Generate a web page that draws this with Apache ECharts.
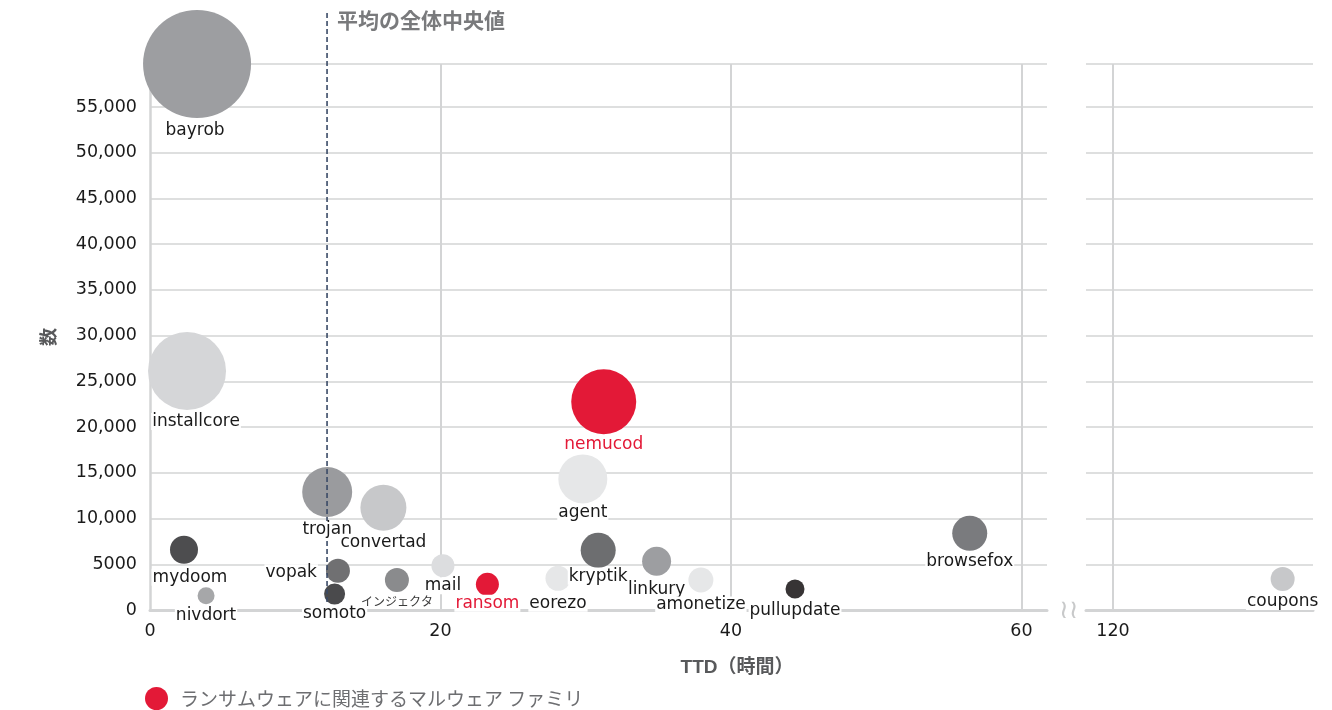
<!DOCTYPE html>
<html><head><meta charset="utf-8">
<script src="https://cdn.jsdelivr.net/npm/echarts@6/dist/echarts.min.js"></script>
<style>html,body{margin:0;padding:0;background:#fff}#chart{width:1332px;height:710px}</style>
</head><body><div id="chart"></div>
<script>
// ---- data ----
const families = ['bayrob','installcore','nemucod','agent','trojan','convertad','mydoom','nivdort','vopak','somoto','インジェクタ','mail','ransom','eorezo','kryptik','linkury','amonetize','pullupdate','browsefox','coupons'];
const ttdHours = [3.24,2.55,31.24,29.8,12.2,16.07,2.34,3.86,12.94,12.71,17.0,20.17,23.23,28.09,30.86,34.88,37.93,44.41,56.44,131.68];
const counts   = [59700,26130,22780,14330,12900,11190,6590,1570,4300,1750,3280,4850,2810,3460,6530,5320,3280,2300,8390,3390];
const bubbleSize = [108,78,65,49,50,46,28,17,24,21,24,23,23,25,35,29,25,19,35,24];
const ransomRelated = [false,false,true,false,false,false,false,false,false,false,false,false,true,false,false,false,false,false,false,false];
const medianTTD = 12.19;
const xTickValues = [0,20,40,60];
const xTickLabels = ['0','20','40','60'];
const xTickValues2 = [120];
const xTickLabels2 = ['120'];
const yTickValues = [0,5000,10000,15000,20000,25000,30000,35000,40000,45000,50000,55000];
const yTickLabels = ['0','5000','10,000','15,000','20,000','25,000','30,000','35,000','40,000','45,000','50,000','55,000'];
const legendName = 'ランサムウェアに関連するマルウェア ファミリ';
const medianLabel = '平均の全体中央値';
const xAxisTitle = 'TTD（時間）';
const yAxisTitle = '数';

// ---- styles ----
const RED = '#e31937';
const bubbleColors = ['#9d9ea1','#d5d6d8',RED,'#e6e7e8','#9a9b9e','#c7c8ca','#4d4d4f','#a6a7a9','#707072','#4a4a4c','#8a8b8d','#dcdddf',RED,'#e6e7e8','#6d6e70','#9d9ea1','#e6e7e8','#373435','#7a7b7e','#c7c8ca'];
const labelTweaks = {
  bayrob:{distance:4, offset:[-2,0]}, installcore:{distance:3, offset:[9,0]}, nemucod:{distance:1.5},
  agent:{distance:0.5}, trojan:{distance:4}, convertad:{distance:3}, mydoom:{distance:5, offset:[6,0]},
  nivdort:{distance:3}, vopak:{position:'left', distance:8, offset:[0,2]}, somoto:{distance:0.5},
  'インジェクタ':{distance:3, fontSize:12}, mail:{distance:0}, ransom:{distance:-1}, eorezo:{distance:4},
  kryptik:{distance:0}, linkury:{distance:5}, amonetize:{distance:4}, pullupdate:{distance:4},
  browsefox:{distance:2.5}, coupons:{distance:2}
};
const LATIN = '"DejaVu Sans", "Noto Sans CJK JP", sans-serif';
const CJK = '"Noto Sans CJK JP", sans-serif';
const GRID_LINE = '#d3d4d5';

function mkItem(i, forLabels) {
  const name = families[i];
  const t = labelTweaks[name] || {};
  const item = {
    name: name,
    value: [ttdHours[i], counts[i], bubbleSize[i]],
    itemStyle: {color: forLabels ? 'rgba(0,0,0,0)' : bubbleColors[i], opacity: 1}
  };
  if (forLabels) {
    item.label = {
      show: true,
      formatter: name,
      position: t.position || 'bottom',
      distance: t.distance !== undefined ? t.distance : 2,
      offset: t.offset || [0,0],
      fontSize: t.fontSize || 17,
      fontFamily: t.fontSize ? CJK : LATIN,
      color: ransomRelated[i] ? RED : (t.fontSize ? '#3a3a3a' : '#1a1a1a'),
      backgroundColor: '#fff',
      padding: [0,1]
    };
  }
  return item;
}
function idxs(pred){ const r=[]; for(let i=0;i<families.length;i++){ if(pred(i)) r.push(i);} return r; }
const mainIdx = idxs(i => ttdHours[i] < 100);
const farIdx = idxs(i => ttdHours[i] >= 100);

const X0MAX = 61.76, X1MIN = 118.14, X1MAX = 133.77, YMAX = 59700;

function yAxisCfg(gridIndex, showLabels) {
  return {
    type:'value', gridIndex, min:0, max:YMAX, interval:5000,
    name: showLabels ? yAxisTitle : '', nameLocation:'middle', nameGap: 93, nameRotate: 90,
    nameTextStyle:{fontFamily:CJK, fontWeight:'bold', fontSize:18, color:'#58595b'},
    axisLine:{show: showLabels, lineStyle:{color:GRID_LINE, width:2.5}},
    axisTick:{show:false},
    axisLabel:{show: showLabels, margin:13, fontSize:17.5, fontFamily:LATIN, color:'#1a1a1a',
      formatter: v => { const k = yTickValues.indexOf(v); return k >= 0 ? yTickLabels[k] : ''; }},
    splitLine:{show:true, showMinLine:false, lineStyle:{color:GRID_LINE, width:1.5}}
  };
}

const seriesList = [];
function bubbleSeries(name, xi, yi, list, z) {
  return {
    type:'scatter', name, xAxisIndex:xi, yAxisIndex:yi, z,
    symbol:'circle', symbolSize: v => v[2],
    itemStyle:{opacity:1},
    data: list.map(i => mkItem(i, false)),
    label:{show:false}, emphasis:{disabled:true}, silent:true
  };
}
seriesList.push(bubbleSeries('other', 0, 0, mainIdx.filter(i => !ransomRelated[i]), 2));
seriesList.push(bubbleSeries(legendName, 0, 0, mainIdx.filter(i => ransomRelated[i]), 2));
const far = bubbleSeries('other-far', 1, 1, farIdx, 2);
far.markLine = { silent:true, symbol:'none', label:{show:false}, z:1,
  lineStyle:{color:GRID_LINE, width:2, type:'solid'},
  data: xTickValues2.map(v => ({xAxis: v})) };
seriesList.push(far);
// median line (in its own taller grid sharing the same x scale)
seriesList.push({
  type:'line', name:'median', xAxisIndex:2, yAxisIndex:2, z:3, silent:true,
  data:[[medianTTD,0],[medianTTD,1]], symbol:'none',
  lineStyle:{color:'#3a4a66', width:1.6, type:[5,3]}
});
seriesList.push({
  type:'scatter', name:'median-label', xAxisIndex:2, yAxisIndex:2, z:3, silent:true,
  data:[{value:[medianTTD,1], label:{show:true, formatter: medianLabel, position:'right', distance:10, offset:[0,7],
    fontFamily:CJK, fontWeight:'bold', fontSize:21, color:'#58595b'}}],
  symbolSize:0, itemStyle:{color:'rgba(0,0,0,0)'}
});
// labels above the median line
seriesList.push({
  type:'scatter', name:'labels', xAxisIndex:0, yAxisIndex:0, z:4, silent:true,
  symbol:'circle', symbolSize: v => v[2], itemStyle:{opacity:1}, data: mainIdx.map(i => mkItem(i, true))
});
seriesList.push({
  type:'scatter', name:'labels-far', xAxisIndex:1, yAxisIndex:1, z:4, silent:true,
  symbol:'circle', symbolSize: v => v[2], itemStyle:{opacity:1}, data: farIdx.map(i => mkItem(i, true))
});

const option = {
  animation:false,
  backgroundColor:'#fff',
  title:{ text: xAxisTitle, left: 732, top: 653, textAlign:'center',
    textStyle:{fontFamily:'"Liberation Sans", "Noto Sans CJK JP", sans-serif', fontWeight:'bold', fontSize:19, color:'#58595b'} },
  legend:{ data:[{name:legendName, icon:'circle'}], left:140, top:682, itemWidth:23, itemHeight:23,
    selectedMode:false, itemStyle:{color:RED, opacity:1},
    textStyle:{fontFamily:CJK, fontSize:19, color:'#6d6e71', padding:[0,0,0,7]} },
  grid:[
    {left:150, top:64, width:897, height:546},
    {left:1086, top:64, width:227, height:546},
    {left:150, top:13, width:897, height:597}
  ],
  xAxis:[
    {type:'value', gridIndex:0, min:0, max:X0MAX, interval:20,
      axisLine:{show:true, onZero:false, lineStyle:{color:GRID_LINE, width:3}}, axisTick:{show:false},
      axisLabel:{margin:13, fontSize:17.5, fontFamily:LATIN, color:'#1a1a1a', showMaxLabel:false,
        formatter: v => { const k = xTickValues.indexOf(v); return k >= 0 ? xTickLabels[k] : ''; }},
      splitLine:{show:true, showMinLine:false, showMaxLine:false, lineStyle:{color:GRID_LINE, width:2}}},
    {type:'value', gridIndex:1, min:X1MIN, max:X1MAX,
      axisLine:{show:true, onZero:false, lineStyle:{color:GRID_LINE, width:3}},
      axisTick:{show:false, customValues: xTickValues2},
      axisLabel:{margin:13, fontSize:17.5, fontFamily:LATIN, color:'#1a1a1a', customValues: xTickValues2,
        formatter: v => { const k = xTickValues2.indexOf(v); return k >= 0 ? xTickLabels2[k] : ''; }},
      splitLine:{show:false}},
    {type:'value', gridIndex:2, min:0, max:X0MAX, show:false}
  ],
  yAxis:[
    yAxisCfg(0, true),
    yAxisCfg(1, false),
    {type:'value', gridIndex:2, min:0, max:1, show:false}
  ],
  graphic:[
    {type:'text', left:1059, top:598, z:10,
      style:{text:'≀≀', fontSize:26, fill:'#c8c9ca', fontFamily:'"DejaVu Sans", sans-serif'}}
  ],
  series: seriesList
};
const chart = echarts.init(document.getElementById('chart'), null, {renderer:'canvas'});
chart.setOption(option);
</script>
</body></html>
